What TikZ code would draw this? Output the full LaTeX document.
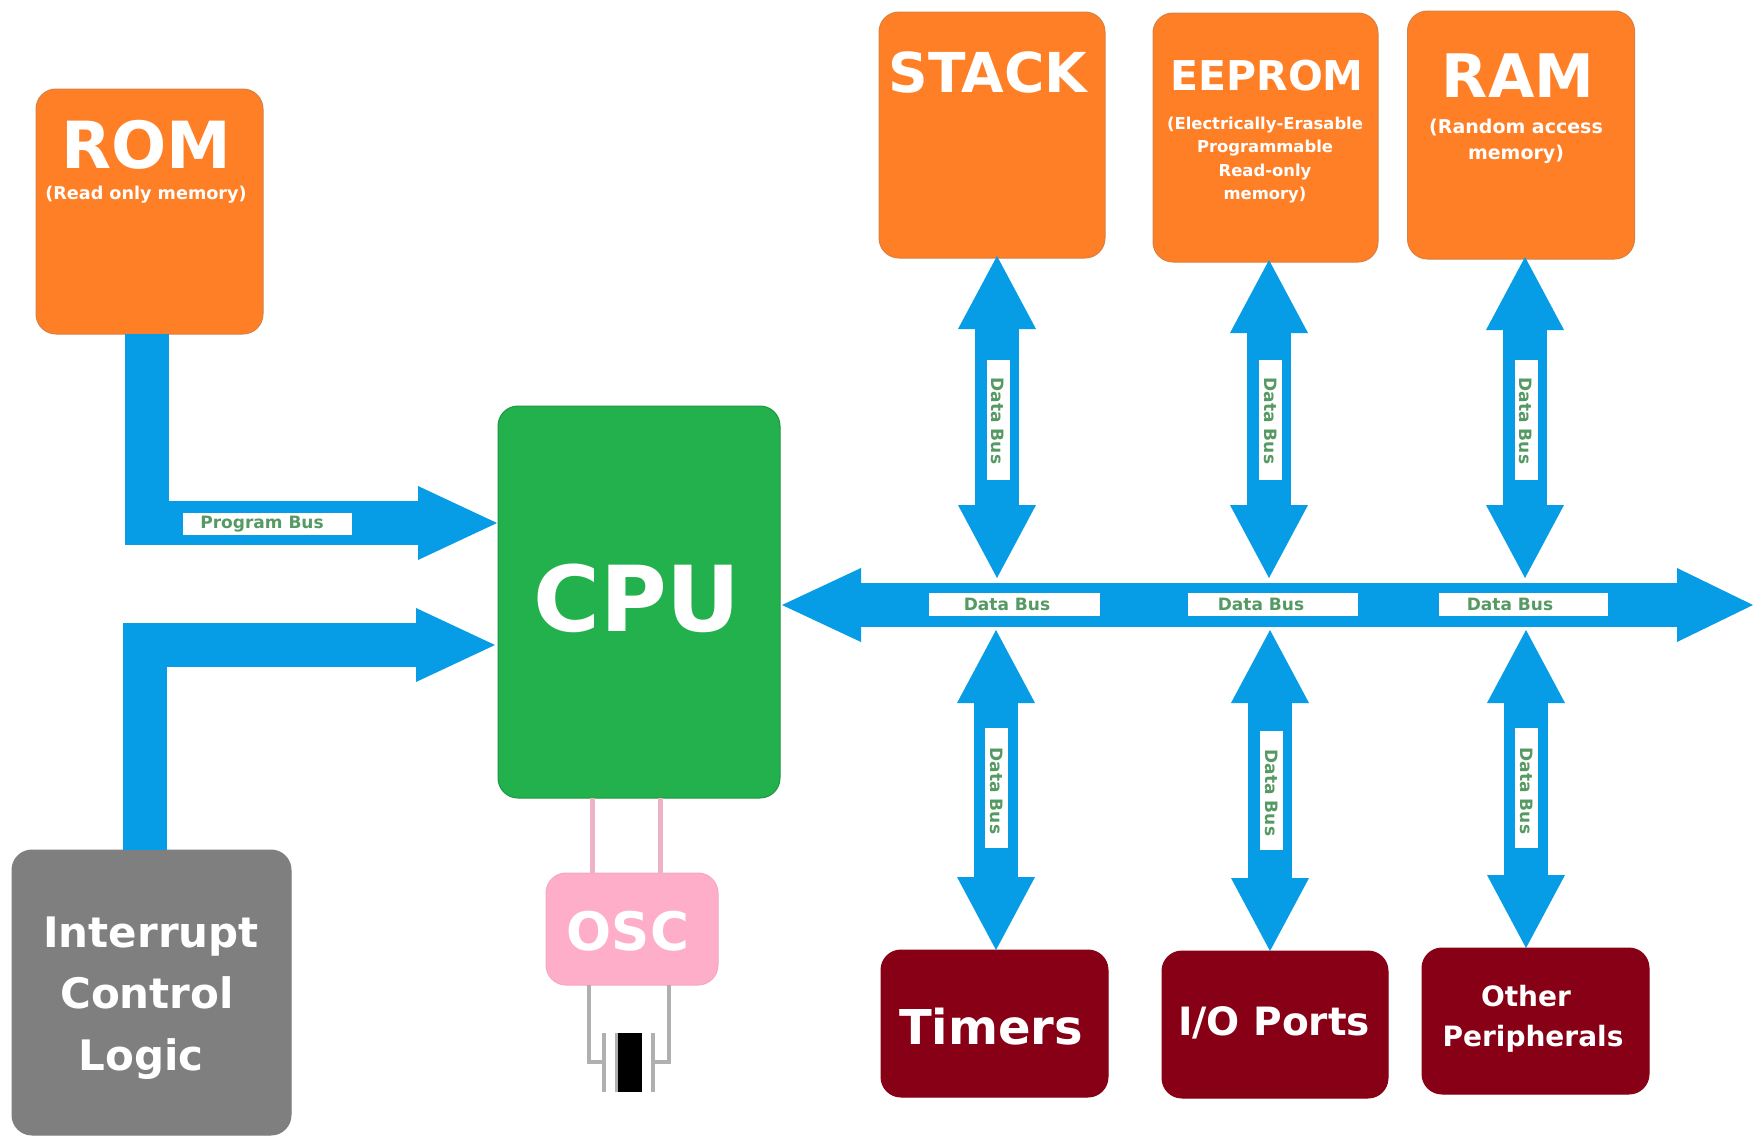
\documentclass[tikz,border=0pt]{standalone}
\usepackage{fontspec}
\setmainfont{DejaVu Sans}
\usetikzlibrary{arrows.meta}
\definecolor{busblue}{HTML}{069DE6}
\definecolor{orangebox}{HTML}{FF7F27}
\definecolor{orangeedge}{HTML}{D98040}
\definecolor{greenbox}{HTML}{22B14C}
\definecolor{redbox}{HTML}{880015}
\definecolor{greybox}{HTML}{7F7F7F}
\definecolor{pinkbox}{HTML}{FFAEC9}
\definecolor{pinkline}{HTML}{EDB2C6}
\definecolor{leadgrey}{HTML}{B0B0B0}
\definecolor{labelgreen}{HTML}{559A62}
\tikzset{
  block/.style={rounded corners=20pt,inner sep=0pt,outer sep=0pt,line width=1pt},
  rombox/.style={block,fill=orangebox,draw=orangeedge},
  cpubox/.style={block,fill=greenbox,draw=greenbox!85!black},
  periph/.style={block,fill=redbox,draw=redbox},
  intbox/.style={block,fill=greybox,draw=greybox},
  oscbox/.style={block,fill=pinkbox,draw=pinkbox!90!gray},
  oneway/.style={draw=busblue,line width=44pt,-{Triangle[line width=0pt,width=74pt,length=79pt,fill=busblue]}},
  twoway/.style={draw=busblue,line width=44pt,{Triangle[line width=0pt,width=78pt,length=73pt,fill=busblue]}-{Triangle[line width=0pt,width=78pt,length=73pt,fill=busblue]}},
  mainbus/.style={draw=busblue,line width=44pt,{Triangle[line width=0pt,width=74pt,length=79pt,fill=busblue]}-{Triangle[line width=0pt,width=74pt,length=76pt,fill=busblue]}},
  title/.style={text=white,font=\bfseries,inner sep=0pt,anchor=base},
  subtitle/.style={text=white,font=\bfseries,inner sep=0pt,align=center},
  buslabelbox/.style={fill=white,inner sep=0pt,outer sep=0pt},
  buslabel/.style={text=labelgreen,font=\fontsize{17}{20}\selectfont\bfseries,inner sep=0pt},
  oscpin/.style={draw=pinkline,line width=5pt},
  lead/.style={draw=leadgrey,line width=4pt},
}
\newcommand{\fsz}[1]{\fontsize{#1}{#1}\selectfont}
\begin{document}
\begin{tikzpicture}[x=1pt,y=-1pt]
\useasboundingbox (0,0) rectangle (1760,1135);
\fill[white] (0,0) rectangle (1760,1135);
% boxes
\node[rombox,minimum width=227pt,minimum height=245pt] (rom) at (149.5,211.5) {};
\node[rombox,minimum width=226pt,minimum height=246pt] (stack) at (992,135) {};
\node[rombox,minimum width=225pt,minimum height=249pt] (eeprom) at (1265.5,137.5) {};
\node[rombox,minimum width=227pt,minimum height=248pt] (ram) at (1521,135) {};
\node[cpubox,minimum width=282pt,minimum height=392pt] (cpu) at (639,602) {};
\node[intbox,minimum width=279pt,minimum height=285pt] (intr) at (151.5,992.5) {};
\node[oscbox,minimum width=172pt,minimum height=112pt] (osc) at (632,929) {};
\node[periph,minimum width=227pt,minimum height=147pt] (timers) at (994.5,1023.5) {};
\node[periph,minimum width=226pt,minimum height=147pt] (io) at (1275,1024.5) {};
\node[periph,minimum width=227pt,minimum height=146pt] (other) at (1535.5,1021) {};
% junctions
\coordinate (busL) at (782,605);
\coordinate (busR) at (1753,605);
\coordinate (romIn) at (497,523);
\coordinate (intIn) at (495,645);
\coordinate (a1) at (997,578);
\coordinate (a2) at (1269,578);
\coordinate (a3) at (1525,578);
\coordinate (b1) at (996,630);
\coordinate (b2) at (1270,630);
\coordinate (b3) at (1526,630);
% buses
\draw[oneway] ([xshift=-2.5pt]rom.south) |- (romIn);
\draw[oneway] ([xshift=-6.5pt]intr.north) |- (intIn);
\draw[mainbus] (busL) -- (busR);
\draw[twoway] ([yshift=2pt]stack.south -| a1) -- (a1);
\draw[twoway] ([yshift=2pt]eeprom.south -| a2) -- (a2);
\draw[twoway] ([yshift=2pt]ram.south -| a3) -- (a3);
\draw[twoway] (b1) -- (timers.north -| b1);
\draw[twoway] (b2) -- (io.north -| b2);
\draw[twoway] (b3) -- (other.north -| b3);
% oscillator
\coordinate (pinA) at (592,798);
\coordinate (pinB) at (660,798);
\draw[oscpin] (pinA) -- (pinA |- osc.north);
\draw[oscpin] (pinB) -- (pinB |- osc.north);
\coordinate (plateLtop) at (604,1033);
\coordinate (plateLbot) at (604,1092);
\coordinate (plateRtop) at (653,1033);
\coordinate (plateRbot) at (653,1092);
\coordinate (plateLmid) at (604,1062);
\coordinate (plateRmid) at (653,1062);
\coordinate (leadL) at (589,985);
\coordinate (leadR) at (669,985);
\draw[lead,line join=miter] (leadL) |- (plateLmid);
\draw[lead,line join=miter] (leadR) |- (plateRmid);
\draw[lead] (plateLtop) -- (plateLbot);
\draw[lead] (plateRtop) -- (plateRbot);
\node[fill=black,inner sep=0pt,minimum width=24pt,minimum height=59pt] (crystal) at (630,1062.5) {};
\draw[lead,line width=3pt] (crystal.north west) ++(-1.5pt,0) -- ++(0,59);
% titles
\node[title,font=\fsz{65}\bfseries] (tRom) at (146,168) {ROM};
\node[subtitle,font=\fsz{17.6}\bfseries] (sRom) at (146,195) {(Read only memory)};
\node[title,font=\fsz{55}\bfseries] (tStack) at (988,92) {STACK};
\node[title,font=\fsz{41}\bfseries] (tEeprom) at (1267,90) {EEPROM};
\node[subtitle,font=\fontsize{16.4}{23.3}\selectfont\bfseries] (sEeprom) at (1265,160) {(Electrically-Erasable\\Programmable\\Read-only\\memory)};
\node[title,font=\fsz{60}\bfseries] (tRam) at (1518,97) {RAM};
\node[subtitle,font=\fontsize{19}{26}\selectfont\bfseries] (sRam) at (1516,141) {(Random access\\memory)};
\node[title,font=\fsz{91}\bfseries] (tCpu) at (637,631) {CPU};
\node[title,font=\fsz{42}\bfseries] (tInt1) at (151,947) {Interrupt};
\node[title,font=\fsz{42}\bfseries] (tInt2) at (147,1008) {Control};
\node[title,font=\fsz{42}\bfseries] (tInt3) at (141,1070) {Logic};
\node[title,font=\fsz{53}\bfseries] (tOsc) at (628,950) {OSC};
\node[title,font=\fsz{48}\bfseries] (tTimers) at (991,1044) {Timers};
\node[title,font=\fsz{39}\bfseries] (tIo) at (1274,1035) {I/O Ports};
\node[title,font=\fsz{28}\bfseries] (tOther) at (1526,1006) {Other};
\node[title,font=\fsz{28}\bfseries] (tPeriph) at (1533,1046) {Peripherals};
% bus labels
\node[buslabelbox,minimum width=169pt,minimum height=22pt] (lp) at (267.5,524) {};
\node[buslabel,anchor=base] (lpt) at (262,528) {Program Bus};
\node[buslabelbox,minimum width=171pt,minimum height=23pt] (lh1) at (1014.5,604.5) {};
\node[buslabel,anchor=base] (lh1t) at (1007,610) {Data Bus};
\node[buslabelbox,minimum width=170pt,minimum height=23pt] (lh2) at (1273,604.5) {};
\node[buslabel,anchor=base] (lh2t) at (1261,610) {Data Bus};
\node[buslabelbox,minimum width=169pt,minimum height=23pt] (lh3) at (1523.5,604.5) {};
\node[buslabel,anchor=base] (lh3t) at (1510,610) {Data Bus};
\node[buslabelbox,minimum width=23pt,minimum height=120pt] (lv1) at (998,420) {};
\node[buslabel,rotate=-90] (lv1t) at (998,421) {Data Bus};
\node[buslabelbox,minimum width=23pt,minimum height=120pt] (lv2) at (1270.5,420) {};
\node[buslabel,rotate=-90] (lv2t) at (1270.5,421) {Data Bus};
\node[buslabelbox,minimum width=23pt,minimum height=120pt] (lv3) at (1526,420) {};
\node[buslabel,rotate=-90] (lv3t) at (1526,421) {Data Bus};
\node[buslabelbox,minimum width=23pt,minimum height=120pt] (lv4) at (996.5,788) {};
\node[buslabel,rotate=-90] (lv4t) at (997,791) {Data Bus};
\node[buslabelbox,minimum width=23pt,minimum height=119pt] (lv5) at (1271.5,790.5) {};
\node[buslabel,rotate=-90] (lv5t) at (1272,793) {Data Bus};
\node[buslabelbox,minimum width=23pt,minimum height=120pt] (lv6) at (1526.5,788) {};
\node[buslabel,rotate=-90] (lv6t) at (1527,791) {Data Bus};
\end{tikzpicture}
\end{document}
